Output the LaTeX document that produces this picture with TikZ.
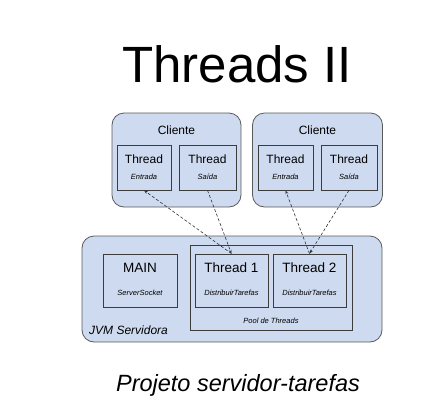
\documentclass[tikz,border=0pt]{standalone}
\usepackage{fontspec}
\setmainfont{Liberation Sans}
\usetikzlibrary{arrows.meta}
\definecolor{boxfill}{HTML}{CDDAEF}
\definecolor{outerline}{HTML}{5A5A5A}
\definecolor{innerline}{HTML}{3C3C3C}
\newcommand{\fs}[1]{\fontsize{#1}{#1}\selectfont}
\tikzset{
  outerbox/.style={draw=outerline, fill=boxfill, rounded corners=12pt, line width=0.8pt, inner sep=0pt},
  innerbox/.style={draw=innerline, fill=boxfill, line width=0.7pt, inner sep=0pt},
  poolbox/.style={draw=innerline, fill=boxfill, line width=0.7pt, inner sep=0pt},
  bigtxt/.style={inner sep=0pt, font=\fs{12}},
  smalltxt/.style={inner sep=0pt, font=\fs{7.5}\itshape},
  dasharrow/.style={draw=black!80, line width=0.6pt, dash pattern=on 3pt off 2pt, -{Stealth[length=4pt,width=3pt]}}
}
\begin{document}
\begin{tikzpicture}[x=1pt,y=-1pt]
\useasboundingbox (0,0) rectangle (424,418);
% title
\node[inner sep=0pt, font=\fs{51}] (title) at (237,64) {Threads II};
% clients
\node[outerbox, minimum width=129pt, minimum height=94pt] (c1) at (176.5,160) {};
\node[outerbox, minimum width=130pt, minimum height=94pt] (c2) at (317.5,160) {};
\node[bigtxt] (c1l) at (176.5,130) {Cliente};
\node[bigtxt] (c2l) at (317.5,130) {Cliente};
\node[innerbox, minimum width=54pt, minimum height=45pt] (e1) at (144,167.5) {};
\node[innerbox, minimum width=57pt, minimum height=45pt] (s1) at (207.5,167.5) {};
\node[innerbox, minimum width=55pt, minimum height=45pt] (e2) at (285.5,167.5) {};
\node[innerbox, minimum width=56pt, minimum height=45pt] (s2) at (349,167.5) {};
\node[bigtxt] (e1t) at (144,159) {Thread};
\node[bigtxt] (s1t) at (207.5,159) {Thread};
\node[bigtxt] (e2t) at (285.5,159) {Thread};
\node[bigtxt] (s2t) at (349,159) {Thread};
\node[smalltxt] (e1s) at (144,177) {Entrada};
\node[smalltxt] (s1s) at (207.5,177) {Saída};
\node[smalltxt] (e2s) at (285.5,177) {Entrada};
\node[smalltxt] (s2s) at (349,177) {Saída};
% server
\node[outerbox, minimum width=300pt, minimum height=106pt] (jvm) at (232,289) {};
\node[innerbox, minimum width=74pt, minimum height=53pt] (main) at (140,280.5) {};
\node[poolbox, minimum width=162pt, minimum height=85pt] (pool) at (271,287.5) {};
\node[innerbox, minimum width=73pt, minimum height=53pt] (t1) at (231.5,280.5) {};
\node[innerbox, minimum width=73pt, minimum height=53pt] (t2) at (309.5,280.5) {};
\node[inner sep=0pt, font=\fs{13.5}] (mainl) at (140,268) {MAIN};
\node[inner sep=0pt, font=\fs{13.5}] (t1l) at (231.5,268) {Thread 1};
\node[inner sep=0pt, font=\fs{13.5}] (t2l) at (309.5,268) {Thread 2};
\node[smalltxt] (mains) at (140,293) {ServerSocket};
\node[smalltxt] (t1s) at (231.5,293) {DistribuirTarefas};
\node[smalltxt] (t2s) at (309.5,293) {DistribuirTarefas};
\node[smalltxt] (pooll) at (271,321) {Pool de Threads};
\node[inner sep=0pt, anchor=west, font=\fs{12}\itshape] (jvml) at (89,330) {JVM Servidora};
% connectors
\draw[dasharrow] (t1.north) -- (e1.south);
\draw[dasharrow] (s1.south) -- (t1.north);
\draw[dasharrow] (t2.north) -- (e2.south);
\draw[dasharrow] (s2.south) -- (t2.north);
% subtitle
\node[inner sep=0pt, font=\fs{23.5}\itshape] (sub) at (238,385) {Projeto servidor-tarefas};
\end{tikzpicture}
\end{document}
